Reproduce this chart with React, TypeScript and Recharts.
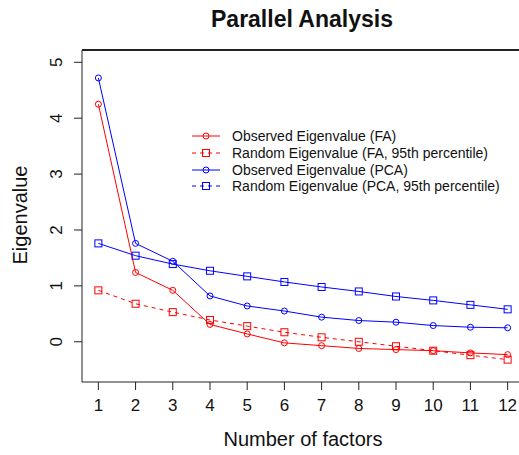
import { LineChart, Line, XAxis, YAxis, Legend, Label, ReferenceLine } from 'recharts';

const factors = [1, 2, 3, 4, 5, 6, 7, 8, 9, 10, 11, 12];
const observedFA = [4.25, 1.24, 0.92, 0.31, 0.14, -0.02, -0.07, -0.12, -0.14, -0.16, -0.2, -0.23];
const randomFA = [0.92, 0.68, 0.53, 0.39, 0.28, 0.17, 0.08, 0.0, -0.08, -0.16, -0.24, -0.32];
const observedPCA = [4.72, 1.76, 1.44, 0.82, 0.64, 0.55, 0.44, 0.38, 0.35, 0.29, 0.26, 0.25];
const randomPCA = [1.76, 1.54, 1.39, 1.27, 1.17, 1.07, 0.98, 0.9, 0.81, 0.74, 0.66, 0.58];
const yTicks = [0, 1, 2, 3, 4, 5];
const xDomain = [0.56, 12.44];
const yDomain = [-0.72, 5.22];

const series = [
  { key: 'obsFA', name: 'Observed Eigenvalue (FA)', color: '#ff0000', dashed: false, legendDashed: false, shape: 'circle' },
  { key: 'randFA', name: 'Random Eigenvalue (FA, 95th percentile)', color: '#ff0000', dashed: true, legendDashed: true, shape: 'square' },
  { key: 'obsPCA', name: 'Observed Eigenvalue (PCA)', color: '#0000ff', dashed: false, legendDashed: false, shape: 'circle' },
  { key: 'randPCA', name: 'Random Eigenvalue (PCA, 95th percentile)', color: '#0000ff', dashed: false, legendDashed: true, shape: 'square' },
];

const data = factors.map((f, i) => ({
  factor: f,
  obsFA: observedFA[i],
  randFA: randomFA[i],
  obsPCA: observedPCA[i],
  randPCA: randomPCA[i],
}));

const font = '"Liberation Sans", Arial, sans-serif';

const Marker = ({ cx, cy, color, shape }: any) =>
  shape === 'circle' ? (
    <circle cx={cx} cy={cy} r={3} fill="none" stroke={color} strokeWidth={1} />
  ) : (
    <rect x={cx - 3.5} y={cy - 3.5} width={7} height={7} fill="none" stroke={color} strokeWidth={1} />
  );

const makeDot = (color: string, shape: string) => (props: any) =>
  <Marker key={props.index} cx={props.cx} cy={props.cy} color={color} shape={shape} />;

const YTick = ({ x, y, payload }: any) => (
  <text
    transform={`translate(${x},${y}) rotate(-90)`}
    textAnchor="middle"
    fontSize={17}
    fontFamily={font}
    fill="#111"
  >
    {payload.value}
  </text>
);

const XTitle = ({ viewBox }: any) => (
  <text x={viewBox.x + viewBox.width / 2} y={446} textAnchor="middle" fontSize={20} fontFamily={font} fill="#111">
    Number of factors
  </text>
);

const YTitle = () => (
  <text transform="translate(27,215) rotate(-90)" textAnchor="middle" fontSize={20} fontFamily={font} fill="#111">
    Eigenvalue
  </text>
);

const renderLegend = () => (
  <div style={{ fontFamily: font, fontSize: 14, color: '#111' }}>
    {series.map((s) => (
      <div key={s.key} style={{ display: 'flex', alignItems: 'center', height: 16.7 }}>
        <svg width={42} height={12}>
          <line x1={2} y1={6} x2={30} y2={6} stroke={s.color} strokeDasharray={s.legendDashed ? '4 4' : undefined} />
          <Marker cx={16} cy={6} color={s.color} shape={s.shape} />
        </svg>
        <span>{s.name}</span>
      </div>
    ))}
  </div>
);

export default function App() {
  return (
    <div style={{ position: 'absolute', left: 0, top: 0, width: 519, height: 455, overflow: 'hidden', background: '#fff' }}>
      <div
        style={{
          position: 'absolute',
          left: 0,
          width: 604,
          top: 4,
          height: 30,
          lineHeight: '30px',
          textAlign: 'center',
          fontFamily: font,
          fontWeight: 'bold',
          fontSize: 23,
          color: '#111',
        }}
      >
        Parallel Analysis
      </div>
      <LineChart width={524} height={455} data={data} margin={{ top: 50, right: 0, bottom: 0, left: 0 }}>
        <XAxis
          dataKey="factor"
          type="number"
          domain={xDomain}
          ticks={factors}
          height={73}
          tickSize={8}
          tickMargin={9}
          stroke="#222"
          tick={{ fontSize: 17, fontFamily: font, fill: '#111' }}
          allowDataOverflow
        >
          <Label content={XTitle} />
        </XAxis>
        <YAxis
          type="number"
          domain={yDomain}
          ticks={yTicks}
          width={82}
          tickSize={8}
          tickMargin={12}
          stroke="#222"
          tick={<YTick />}
          allowDataOverflow
        >
          <Label content={YTitle} />
        </YAxis>
        <ReferenceLine y={yDomain[1]} stroke="#222" strokeWidth={2} ifOverflow="visible" />
        <Legend
          layout="vertical"
          align="center"
          verticalAlign="middle"
          content={renderLegend}
          wrapperStyle={{ left: 190, top: 128, width: 330, height: 70 }}
        />
        {series.map((s) => (
          <Line
            key={s.key}
            dataKey={s.key}
            name={s.name}
            stroke={s.color}
            strokeWidth={1}
            strokeDasharray={s.dashed ? '4 4' : undefined}
            dot={makeDot(s.color, s.shape)}
            activeDot={false}
            isAnimationActive={false}
          />
        ))}
      </LineChart>
    </div>
  );
}
